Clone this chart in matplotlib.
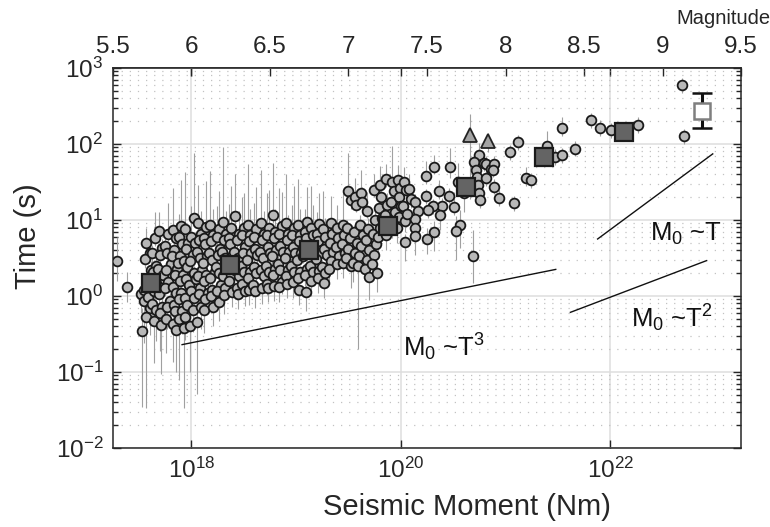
import numpy as np
import matplotlib.pyplot as plt
from matplotlib.ticker import LogLocator, NullLocator, NullFormatter

plt.rcParams['font.family'] = 'Liberation Sans'
plt.rcParams['mathtext.fontset'] = 'custom'
plt.rcParams['mathtext.rm'] = 'Liberation Sans'
plt.rcParams['mathtext.it'] = 'Liberation Sans:italic'
plt.rcParams['mathtext.default'] = 'regular'

# ---- data (log10 units) ----
# dense cloud of small/moderate events: log10 M0 (Nm), log10 T (s), error bar lengths down/up
cloud_logm = [
    17.52, 17.55, 17.53,
    17.57, 17.60, 17.56, 17.61, 17.59, 17.55, 17.58, 17.60, 17.57,
    17.65, 17.62, 17.66, 17.63, 17.67, 17.64, 17.62, 17.66, 17.64,
    17.69, 17.72, 17.70, 17.68, 17.73, 17.71, 17.69, 17.72, 17.70, 17.71,
    17.78, 17.75, 17.77, 17.80, 17.76, 17.78, 17.75, 17.79, 17.77, 17.76,
    17.82, 17.85, 17.83, 17.81, 17.86, 17.84, 17.82, 17.85, 17.83, 17.84, 17.82, 17.85,
    17.90, 17.88, 17.91, 17.89, 17.87, 17.92, 17.89, 17.90, 17.88, 17.91, 17.88,
    17.94, 17.97, 17.95, 17.93, 17.96, 17.95, 17.98, 17.94, 17.96, 17.94, 17.93,
    18.02, 18.00, 18.03, 18.01, 17.99, 18.02, 18.04, 18.00, 18.02, 18.01, 17.99,
    18.06, 18.09, 18.07, 18.05, 18.08, 18.10, 18.06, 18.08, 18.07, 18.09, 18.05,
    18.14, 18.12, 18.13, 18.15, 18.11, 18.14, 18.12, 18.16, 18.13, 18.12,
    18.18, 18.21, 18.19, 18.17, 18.20, 18.22, 18.18, 18.20, 18.19, 18.21,
    18.26, 18.24, 18.27, 18.25, 18.23, 18.26, 18.28, 18.24, 18.26,
    18.30, 18.33, 18.31, 18.29, 18.32, 18.34, 18.30, 18.32, 18.31,
    18.38, 18.36, 18.37, 18.39, 18.35, 18.38, 18.36, 18.39,
    18.42, 18.45, 18.43, 18.41, 18.44, 18.42, 18.45, 18.43, 18.44,
    18.50, 18.48, 18.51, 18.49, 18.47, 18.50, 18.48, 18.51,
    18.54, 18.56, 18.55, 18.57, 18.53, 18.56, 18.54, 18.55,
    18.62, 18.60, 18.61, 18.63, 18.60, 18.62, 18.59, 18.61,
    18.66, 18.69, 18.67, 18.65, 18.68, 18.66, 18.69, 18.67,
    18.74, 18.72, 18.73, 18.75, 18.71, 18.74, 18.72, 18.73,
    18.78, 18.80, 18.79, 18.81, 18.77, 18.80, 18.78, 18.79,
    18.86, 18.84, 18.85, 18.87, 18.83, 18.85, 18.86, 18.84,
    18.90, 18.92, 18.91, 18.93, 18.89, 18.92, 18.90, 18.91,
    18.98, 18.96, 18.97, 18.99, 18.95, 18.98, 18.97,
    19.02, 19.04, 19.03, 19.05, 19.01, 19.04, 19.02, 19.03,
    19.10, 19.08, 19.09, 19.11, 19.07, 19.10, 19.08, 19.09,
    19.14, 19.16, 19.15, 19.17, 19.13, 19.16, 19.14,
    19.22, 19.20, 19.21, 19.23, 19.19, 19.22, 19.21,
    19.26, 19.28, 19.27, 19.29, 19.25, 19.28, 19.27,
    19.33, 19.34, 19.32, 19.35, 19.33, 19.31,
    19.39, 19.40, 19.38, 19.41, 19.39,
    19.45, 19.46, 19.44, 19.47, 19.45,
    19.50, 19.52, 19.49, 19.51, 19.50, 19.48, 19.52,
    19.56, 19.57, 19.55, 19.58, 19.56, 19.54,
    19.62, 19.63, 19.61, 19.64, 19.62, 19.60, 19.59,
    19.68, 19.69, 19.67, 19.70, 19.68, 19.66, 19.70,
    19.74, 19.75, 19.73, 19.76, 19.74, 19.72, 19.77,
    19.80, 19.81, 19.79, 19.82, 19.80, 19.78,
    19.86, 19.87, 19.85, 19.88, 19.86,
    19.92, 19.93, 19.91, 19.94, 19.92,
    19.97, 19.99, 19.98, 20.00, 19.98, 19.96,
    20.03, 20.05, 20.02, 20.04, 20.04,
    20.08, 20.10, 20.14, 20.16, 20.14, 20.14,
    20.14, 20.06,
]
cloud_logt = [
    0.03, -0.07, -0.46,
    0.70, 0.57, 0.49, 0.34, 0.24, 0.08, -0.01, -0.16, -0.28,
    0.76, 0.57, 0.40, 0.31, 0.14, 0.06, -0.10, -0.19, -0.33,
    0.85, 0.63, 0.54, 0.36, 0.28, 0.10, 0.02, -0.14, -0.23, -0.38,
    0.82, 0.66, 0.57, 0.42, 0.34, 0.18, 0.10, -0.06, -0.14, -0.30,
    0.87, 0.76, 0.60, 0.52, 0.36, 0.28, 0.12, 0.04, -0.12, -0.20, -0.37, -0.45,
    0.92, 0.78, 0.68, 0.52, 0.44, 0.28, 0.20, 0.04, -0.04, -0.20, -0.30,
    0.88, 0.70, 0.62, 0.46, 0.38, 0.22, 0.14, -0.02, -0.12, -0.28, -0.42,
    1.02, 0.78, 0.70, 0.54, 0.46, 0.30, 0.22, 0.06, -0.02, -0.18, -0.40,
    0.96, 0.82, 0.74, 0.58, 0.50, 0.34, 0.26, 0.10, 0.02, -0.14, -0.34,
    0.91, 0.76, 0.68, 0.52, 0.44, 0.28, 0.20, 0.04, -0.04, -0.19,
    0.94, 0.80, 0.72, 0.56, 0.48, 0.32, 0.24, 0.08, 0.00, -0.15,
    0.88, 0.78, 0.62, 0.54, 0.38, 0.30, 0.14, 0.06, -0.08,
    0.97, 0.82, 0.74, 0.58, 0.50, 0.34, 0.26, 0.10, 0.01,
    0.90, 0.76, 0.68, 0.52, 0.44, 0.28, 0.20, 0.05,
    1.05, 0.82, 0.74, 0.58, 0.50, 0.34, 0.26, 0.10, 0.03,
    0.90, 0.80, 0.64, 0.56, 0.40, 0.32, 0.16, 0.07,
    0.94, 0.80, 0.72, 0.56, 0.48, 0.32, 0.24, 0.08,
    0.88, 0.78, 0.62, 0.54, 0.38, 0.30, 0.14, 0.06,
    0.96, 0.82, 0.74, 0.58, 0.50, 0.34, 0.26, 0.10,
    0.90, 0.80, 0.64, 0.56, 0.40, 0.32, 0.16, 0.10,
    1.06, 0.84, 0.76, 0.60, 0.52, 0.36, 0.28, 0.13,
    0.92, 0.82, 0.66, 0.58, 0.42, 0.34, 0.18, 0.12,
    0.96, 0.82, 0.74, 0.58, 0.50, 0.34, 0.26, 0.16,
    0.90, 0.80, 0.64, 0.56, 0.40, 0.32, 0.18,
    0.94, 0.80, 0.72, 0.56, 0.48, 0.32, 0.24, 0.08,
    0.98, 0.84, 0.76, 0.60, 0.52, 0.36, 0.28, 0.05,
    0.90, 0.80, 0.64, 0.56, 0.40, 0.32, 0.20,
    0.95, 0.81, 0.73, 0.57, 0.49, 0.33, 0.24,
    0.88, 0.78, 0.62, 0.54, 0.38, 0.30, 0.17,
    0.96, 0.82, 0.70, 0.58, 0.46, 0.36,
    0.90, 0.76, 0.64, 0.52, 0.42,
    0.94, 0.80, 0.68, 0.56, 0.44,
    1.38, 1.26, 0.90, 0.76, 0.62, 0.50, 0.40,
    1.30, 1.20, 0.84, 0.70, 0.56, 0.44,
    1.36, 1.24, 0.94, 0.80, 0.66, 0.52, 0.40,
    1.12, 0.88, 0.74, 0.60, 0.48, 0.36, 0.25,
    1.40, 1.00, 0.82, 0.68, 0.54, 0.42, 0.30,
    1.46, 1.30, 1.16, 1.02, 0.90, 0.78,
    1.54, 1.20, 1.06, 0.92, 0.80,
    1.50, 1.38, 1.24, 1.10, 0.96,
    1.53, 1.42, 1.30, 1.18, 1.04, 0.90,
    1.50, 1.40, 1.19, 0.99, 0.71,
    1.41, 1.28, 1.24, 1.12, 1.01, 0.90,
    0.79, 1.08,
]
cloud_err_lo = [
    0.25, 0.55, 1.00,
    0.10, 0.08, 0.12, 0.10, 0.12, 0.10, 0.20, 0.35, 1.20,
    0.10, 0.12, 0.08, 0.10, 0.10, 0.15, 0.20, 0.40, 0.55,
    0.10, 0.08, 0.12, 0.10, 0.10, 0.12, 0.15, 0.30, 0.50, 0.65,
    0.10, 0.12, 0.08, 0.10, 0.12, 0.10, 0.10, 0.20, 0.30, 0.45,
    0.10, 0.08, 0.10, 0.12, 0.10, 0.08, 0.10, 0.12, 0.20, 0.30, 0.50, 0.55,
    0.10, 0.12, 0.10, 0.08, 0.10, 0.12, 0.10, 0.10, 0.20, 0.30, 0.80,
    0.10, 0.10, 0.12, 0.08, 0.10, 0.10, 0.12, 0.10, 0.20, 0.30, 1.05,
    0.10, 0.08, 0.10, 0.12, 0.10, 0.10, 0.08, 0.12, 0.20, 0.30, 0.60,
    0.10, 0.12, 0.10, 0.10, 0.08, 0.10, 0.12, 0.10, 0.15, 0.30, 0.95,
    0.10, 0.10, 0.12, 0.08, 0.10, 0.10, 0.12, 0.10, 0.20, 0.30,
    0.10, 0.08, 0.10, 0.12, 0.10, 0.10, 0.12, 0.10, 0.20, 0.25,
    0.10, 0.12, 0.10, 0.08, 0.10, 0.12, 0.10, 0.20, 0.25,
    0.10, 0.10, 0.12, 0.10, 0.08, 0.10, 0.12, 0.15, 0.25,
    0.10, 0.12, 0.10, 0.10, 0.08, 0.10, 0.15, 0.20,
    0.10, 0.10, 0.12, 0.10, 0.10, 0.08, 0.12, 0.15, 0.20,
    0.10, 0.08, 0.10, 0.12, 0.10, 0.10, 0.15, 0.20,
    0.10, 0.12, 0.10, 0.08, 0.10, 0.12, 0.15, 0.20,
    0.10, 0.10, 0.12, 0.10, 0.08, 0.10, 0.15, 0.22,
    0.10, 0.12, 0.10, 0.10, 0.12, 0.10, 0.15, 0.20,
    0.10, 0.08, 0.12, 0.10, 0.10, 0.10, 0.15, 0.18,
    0.10, 0.10, 0.12, 0.08, 0.10, 0.12, 0.15, 0.20,
    0.10, 0.12, 0.10, 0.10, 0.08, 0.10, 0.15, 0.20,
    0.10, 0.10, 0.08, 0.12, 0.10, 0.10, 0.15, 0.18,
    0.10, 0.12, 0.10, 0.10, 0.08, 0.15, 0.20,
    0.10, 0.10, 0.12, 0.08, 0.10, 0.10, 0.15, 0.20,
    0.10, 0.12, 0.10, 0.10, 0.08, 0.12, 0.15, 0.25,
    0.10, 0.10, 0.12, 0.10, 0.10, 0.15, 0.20,
    0.10, 0.08, 0.10, 0.12, 0.10, 0.15, 0.20,
    0.10, 0.12, 0.10, 0.10, 0.08, 0.15, 0.20,
    0.10, 0.10, 0.12, 0.08, 0.15, 0.20,
    0.10, 0.12, 0.10, 0.15, 0.20,
    0.10, 0.10, 0.12, 0.15, 0.20,
    0.10, 0.12, 0.10, 0.10, 0.08, 0.15, 0.30,
    0.10, 0.10, 0.12, 0.10, 0.15, 0.25,
    0.10, 0.12, 0.10, 0.10, 0.08, 0.15, 1.10,
    0.10, 0.10, 0.12, 0.10, 0.10, 0.15, 0.30,
    0.10, 0.12, 0.10, 0.08, 0.10, 0.15, 0.25,
    0.10, 0.10, 0.12, 0.10, 0.15, 0.20,
    0.10, 0.12, 0.10, 0.15, 0.20,
    0.10, 0.10, 0.12, 0.15, 0.20,
    0.10, 0.12, 0.10, 0.10, 0.15, 0.20,
    0.10, 0.10, 0.12, 0.15, 0.25,
    0.10, 0.12, 0.10, 0.10, 0.15, 0.20,
    0.25, 0.15,
]
cloud_err_hi = [
    0.15, 0.20, 0.30,
    0.20, 0.15, 0.10, 0.12, 0.10, 0.08, 0.10, 0.12, 0.10,
    0.35, 0.10, 0.12, 0.10, 0.08, 0.10, 0.12, 0.10, 0.10,
    0.25, 0.12, 0.10, 0.10, 0.08, 0.12, 0.10, 0.10, 0.12, 0.10,
    0.40, 0.10, 0.12, 0.08, 0.10, 0.10, 0.12, 0.10, 0.10, 0.08,
    0.55, 0.20, 0.10, 0.12, 0.10, 0.08, 0.10, 0.12, 0.10, 0.10, 0.12, 0.10,
    0.60, 0.30, 0.10, 0.10, 0.12, 0.08, 0.10, 0.10, 0.12, 0.10, 0.10,
    0.75, 0.20, 0.12, 0.10, 0.10, 0.08, 0.10, 0.12, 0.10, 0.10, 0.10,
    0.86, 0.40, 0.10, 0.12, 0.10, 0.10, 0.08, 0.10, 0.12, 0.10, 0.10,
    0.50, 0.30, 0.10, 0.10, 0.12, 0.10, 0.08, 0.10, 0.10, 0.12, 0.10,
    0.60, 0.20, 0.12, 0.10, 0.10, 0.08, 0.10, 0.12, 0.10, 0.10,
    0.70, 0.35, 0.10, 0.12, 0.10, 0.10, 0.08, 0.10, 0.12, 0.10,
    0.50, 0.40, 0.10, 0.10, 0.12, 0.08, 0.10, 0.10, 0.12,
    0.99, 0.30, 0.12, 0.10, 0.10, 0.08, 0.10, 0.12, 0.10,
    0.55, 0.45, 0.10, 0.12, 0.10, 0.10, 0.08, 0.10,
    0.56, 0.30, 0.12, 0.10, 0.10, 0.08, 0.10, 0.12, 0.10,
    0.45, 0.50, 0.10, 0.10, 0.12, 0.10, 0.08, 0.10,
    0.80, 0.35, 0.12, 0.10, 0.10, 0.08, 0.10, 0.12,
    0.55, 0.45, 0.10, 0.12, 0.10, 0.10, 0.08, 0.10,
    0.70, 0.30, 0.10, 0.10, 0.12, 0.08, 0.10, 0.10,
    0.50, 0.55, 0.12, 0.10, 0.10, 0.10, 0.08, 0.12,
    0.69, 0.30, 0.10, 0.12, 0.10, 0.08, 0.10, 0.10,
    0.45, 0.60, 0.10, 0.10, 0.12, 0.10, 0.08, 0.10,
    0.65, 0.25, 0.12, 0.10, 0.10, 0.08, 0.10, 0.12,
    0.55, 0.40, 0.10, 0.12, 0.10, 0.10, 0.08,
    0.60, 0.35, 0.10, 0.10, 0.12, 0.08, 0.10, 0.10,
    0.45, 0.30, 0.12, 0.10, 0.10, 0.10, 0.08, 0.10,
    0.55, 0.40, 0.10, 0.12, 0.10, 0.08, 0.10,
    0.40, 0.30, 0.10, 0.10, 0.12, 0.10, 0.08,
    0.50, 0.25, 0.12, 0.10, 0.10, 0.08, 0.10,
    0.35, 0.20, 0.10, 0.12, 0.10, 0.08,
    0.30, 0.20, 0.10, 0.10, 0.12,
    0.45, 0.15, 0.12, 0.10, 0.10,
    0.50, 0.15, 0.10, 0.12, 0.10, 0.08, 0.10,
    0.25, 0.15, 0.10, 0.10, 0.12, 0.10,
    0.30, 0.20, 0.12, 0.10, 0.10, 0.08, 0.10,
    0.25, 0.15, 0.10, 0.12, 0.10, 0.10, 0.08,
    0.20, 0.15, 0.10, 0.10, 0.12, 0.10, 0.10,
    0.25, 0.15, 0.12, 0.10, 0.10, 0.08,
    0.20, 0.15, 0.10, 0.12, 0.10,
    0.47, 0.15, 0.10, 0.10, 0.12,
    0.20, 0.15, 0.12, 0.10, 0.10, 0.08,
    0.20, 0.15, 0.10, 0.12, 0.10,
    0.20, 0.15, 0.10, 0.10, 0.12, 0.10,
    0.10, 0.10,
]

# sparse larger events
big_logm = [17.29, 17.38, 20.24, 20.32, 20.47, 20.24, 20.36, 20.39, 20.37, 20.31,
            20.26, 20.32, 20.25, 20.46, 20.51, 20.57, 20.53, 20.69, 20.75, 20.70,
            20.72, 20.73, 20.74, 20.75, 20.76, 20.81, 20.79, 20.81, 20.86, 20.89,
            20.88, 20.89, 20.94, 21.08, 21.04, 21.12, 21.20, 21.24, 21.40, 21.47,
            21.54, 21.66, 21.54, 21.82, 21.90, 22.01, 22.27, 22.69, 22.71, 20.55,
            20.60]
big_logt = [0.46, 0.12, 1.58, 1.70, 1.70, 1.31, 1.38, 1.19, 1.07, 1.18,
            1.13, 0.84, 0.75, 1.32, 1.17, 0.93, 0.85, 0.52, 1.86, 1.76,
            1.66, 1.56, 1.46, 1.36, 1.26, 1.55, 1.75, 1.74, 1.67, 1.74,
            1.66, 1.44, 1.29, 1.22, 1.89, 2.02, 1.55, 1.52, 1.97, 1.83,
            1.85, 1.94, 2.21, 2.31, 2.21, 2.18, 2.25, 2.77, 2.10, 1.50,
            1.35]
big_err_lo = [0.26, 0.20, 0.10, 0.10, 0.15, 0.10, 0.10, 0.10, 0.20, 0.10,
              0.10, 0.25, 0.20, 0.10, 0.10, 0.30, 0.37, 0.35, 0.10, 0.15,
              0.10, 0.10, 0.10, 0.10, 0.10, 0.10, 0.10, 0.10, 0.10, 0.10,
              0.10, 0.10, 0.10, 0.10, 0.10, 0.10, 0.10, 0.10, 0.10, 0.10,
              0.10, 0.10, 0.10, 0.10, 0.10, 0.10, 0.10, 0.10, 0.10, 0.10,
              0.25]
big_err_hi = [0.32, 0.20, 0.20, 0.15, 0.25, 0.10, 0.15, 0.10, 0.10, 0.10,
              0.10, 0.15, 0.15, 0.10, 0.20, 0.20, 0.20, 0.35, 0.15, 0.10,
              0.10, 0.10, 0.10, 0.10, 0.10, 0.10, 0.10, 0.10, 0.10, 0.10,
              0.10, 0.10, 0.10, 0.10, 0.10, 0.10, 0.15, 0.10, 0.20, 0.10,
              0.10, 0.10, 0.15, 0.10, 0.10, 0.10, 0.10, 0.10, 0.10, 0.25,
              0.10]

# triangles
tri_logm = [20.66, 20.83]
tri_logt = [2.12, 2.04]
tri_err_lo = [0.84, 0.15]
tri_err_hi = [0.27, 0.10]

# binned medians (filled squares)
bin_logm = [17.61, 18.365, 19.12, 19.875, 20.62, 21.37, 22.13]
bin_logt = [0.17, 0.41, 0.60, 0.92, 1.44, 1.83, 2.16]

# open square with error bar
open_logm = 22.875
open_logt = 2.44
open_lo_logt = 2.21
open_hi_logt = 2.67

# scaling reference lines (endpoints, log10)
ref_t3_logm = [17.91, 21.48]
ref_t3_logt = [-0.64, 0.35]
ref_t2_logm = [21.62, 22.92]
ref_t2_logt = [-0.215, 0.465]
ref_t1_logm = [21.88, 22.98]
ref_t1_logt = [0.75, 1.87]

mag_ticks = [5.5, 6, 6.5, 7, 7.5, 8, 8.5, 9, 9.5]
mag_labels = ['5.5', '6', '6.5', '7', '7.5', '8', '8.5', '9', '9.5']

# ---- plot ----
fc = '#262626'
fig = plt.figure(figsize=(7.7, 5.27), dpi=100)
ax = fig.add_axes([113 / 770, 79 / 527, 628 / 770, 380 / 527])
ax.set_xscale('log')
ax.set_yscale('log')
ax.set_xlim(10 ** 17.25, 10 ** 23.25)
ax.set_ylim(1e-2, 1e3)


def bars(logm, logt, lo, hi, **kw):
    logm = np.asarray(logm, float)
    logt = np.asarray(logt, float)
    ax.vlines(10 ** logm, 10 ** (logt - np.asarray(lo)), 10 ** (logt + np.asarray(hi)), **kw)


bars(cloud_logm, cloud_logt, cloud_err_lo, cloud_err_hi, colors='#a0a0a0', lw=0.8, zorder=2)
bars(big_logm, big_logt, big_err_lo, big_err_hi, colors='#a0a0a0', lw=0.8, zorder=2)
bars(tri_logm, tri_logt, tri_err_lo, tri_err_hi, colors='#a0a0a0', lw=0.8, zorder=2)

circ = dict(ls='none', marker='o', ms=7.0, mfc='#b8b8b8', mec='#1a1a1a', mew=1.3, zorder=3)
ax.plot(10 ** np.array(cloud_logm), 10 ** np.array(cloud_logt), **circ)
ax.plot(10 ** np.array(big_logm), 10 ** np.array(big_logt), **circ)
ax.plot(10 ** np.array(tri_logm), 10 ** np.array(tri_logt), ls='none', marker='^', ms=10.5,
        mfc='#a3a3a3', mec='#222222', mew=1.3, zorder=3)
ax.plot(10 ** np.array(bin_logm), 10 ** np.array(bin_logt), ls='none', marker='s', ms=13,
        mfc='#646464', mec='#1a1a1a', mew=1.6, zorder=4)

ot = 10 ** open_logt
ax.errorbar(10 ** open_logm, ot, yerr=[[ot - 10 ** open_lo_logt], [10 ** open_hi_logt - ot]],
            fmt='s', ms=12, mfc='white', mec='#7f7f7f', mew=1.8, ecolor='#111111',
            elinewidth=2.2, capsize=7, capthick=2.2, zorder=4)

for lm, lt in [(ref_t3_logm, ref_t3_logt), (ref_t2_logm, ref_t2_logt), (ref_t1_logm, ref_t1_logt)]:
    ax.plot(10 ** np.array(lm), 10 ** np.array(lt), color='#111111', lw=1.0, zorder=5)

tkw = dict(fontsize=18.5, color='#111111')
ax.text(10 ** 20.02, 10 ** -0.79, r'M$_0$ ~T$^3$', **tkw)
ax.text(10 ** 22.20, 10 ** -0.41, r'M$_0$ ~T$^2$', **tkw)
ax.text(10 ** 22.38, 10 ** 0.72, r'M$_0$ ~T', **tkw)

# axes styling
ax.set_xticks([1e18, 1e20, 1e22])
ax.xaxis.set_minor_locator(NullLocator())
ax.yaxis.set_major_locator(LogLocator(base=10, numticks=10))
ax.yaxis.set_minor_locator(LogLocator(base=10, subs=np.arange(2, 10), numticks=20))
ax.yaxis.set_minor_formatter(NullFormatter())
ax.grid(True, which='major', color='#dedede', lw=1.1, ls='-', zorder=0)
ax.grid(True, which='minor', axis='y', color='#c2c2c2', lw=0.9, ls=(0, (1, 5.5)), zorder=0)
ax.set_axisbelow(True)
ax.tick_params(which='both', direction='in', top=True, right=True, colors=fc,
               labelsize=17.5, width=1.0)
ax.tick_params(which='major', length=6, pad=7)
ax.tick_params(which='minor', length=3.5)
for s in ax.spines.values():
    s.set_color(fc)
    s.set_linewidth(1.1)

ax.set_xlabel('Seismic Moment (Nm)', fontsize=21, color=fc)
ax.set_ylabel('Time (s)', fontsize=21, color=fc)
ax.xaxis.set_label_coords((467 - 113) / 628, (448 - 493) / 380)
ax.yaxis.set_label_coords((42 - 113) / 628, (448 - 236) / 380)


def m0_to_mw(m):
    return (2.0 / 3.0) * np.log10(np.clip(m, 1e-300, None)) - 6.0


def mw_to_m0(w):
    return 10 ** (1.5 * (np.asarray(w, float) + 6.0))


sec = ax.secondary_xaxis('top', functions=(m0_to_mw, mw_to_m0))
sec.set_xticks(mag_ticks)
sec.set_xticklabels(mag_labels)
sec.xaxis.set_minor_locator(NullLocator())
sec.tick_params(direction='in', length=6, pad=7, labelsize=17.5, colors=fc, width=1.0)
sec.spines['top'].set_color(fc)
sec.spines['top'].set_linewidth(1.1)
fig.text(723 / 770, 1 - 18 / 527, 'Magnitude', ha='center', va='center', fontsize=14.5, color=fc)

fig.savefig('out.png', dpi=100)
